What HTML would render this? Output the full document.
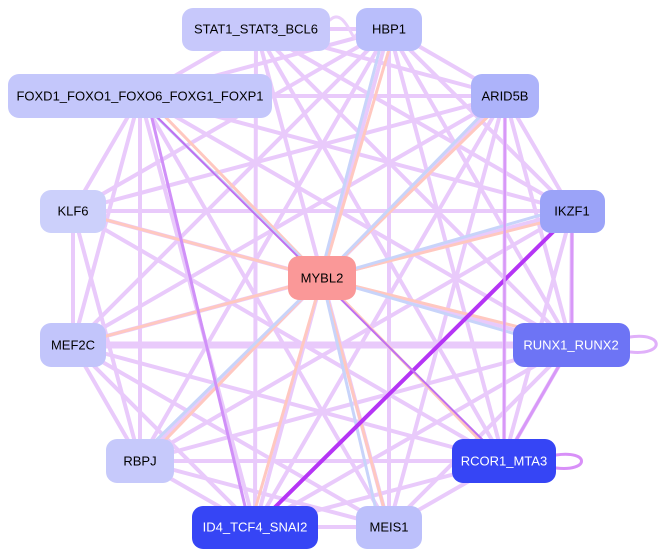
<!DOCTYPE html>
<html><head><meta charset="utf-8"><style>
html,body{margin:0;padding:0;background:#fff;width:662px;height:557px;overflow:hidden}
svg text{font-family:"Liberation Sans",Arial,sans-serif;font-size:13px;text-anchor:middle;dominant-baseline:central}
</style></head><body>
<svg width="662" height="557" viewBox="0 0 662 557">
<g stroke-linecap="round" fill="none">
<g stroke="#e9cafb" stroke-width="4">
<line x1="256" y1="29" x2="140" y2="96"/><line x1="256" y1="29" x2="389" y2="29"/><line x1="256" y1="29" x2="505" y2="96"/><line x1="256" y1="29" x2="572" y2="211"/><line x1="256" y1="29" x2="571" y2="345"/><line x1="256" y1="29" x2="504" y2="461"/><line x1="256" y1="29" x2="255" y2="527"/><line x1="256" y1="29" x2="389" y2="527"/>
<line x1="389" y1="29" x2="140" y2="96"/><line x1="389" y1="29" x2="505" y2="96"/><line x1="389" y1="29" x2="73" y2="211"/><line x1="389" y1="29" x2="73" y2="345"/><line x1="389" y1="29" x2="140" y2="461"/><line x1="389" y1="29" x2="255" y2="527"/><line x1="389" y1="29" x2="389" y2="527"/><line x1="389" y1="29" x2="504" y2="461"/><line x1="389" y1="29" x2="571" y2="345"/><line x1="389" y1="29" x2="572" y2="211"/>
<line x1="140" y1="96" x2="505" y2="96"/><line x1="140" y1="96" x2="73" y2="211"/><line x1="140" y1="96" x2="73" y2="345"/><line x1="140" y1="96" x2="140" y2="461"/><line x1="140" y1="96" x2="255" y2="527"/><line x1="140" y1="96" x2="572" y2="211"/><line x1="140" y1="96" x2="571" y2="345"/><line x1="140" y1="96" x2="389" y2="527"/>
<line x1="505" y1="96" x2="73" y2="211"/><line x1="505" y1="96" x2="73" y2="345"/><line x1="505" y1="96" x2="140" y2="461"/><line x1="505" y1="96" x2="255" y2="527"/><line x1="505" y1="96" x2="389" y2="527"/><line x1="505" y1="96" x2="504" y2="461"/><line x1="505" y1="96" x2="571" y2="345"/><line x1="505" y1="96" x2="572" y2="211"/>
<line x1="73" y1="211" x2="572" y2="211"/><line x1="73" y1="211" x2="73" y2="345"/><line x1="73" y1="211" x2="571" y2="345"/><line x1="73" y1="211" x2="140" y2="461"/><line x1="73" y1="211" x2="504" y2="461"/>
<line x1="572" y1="211" x2="73" y2="345"/><line x1="572" y1="211" x2="140" y2="461"/><line x1="572" y1="211" x2="504" y2="461"/><line x1="572" y1="211" x2="571" y2="345"/>
<line x1="73" y1="345" x2="571" y2="345" stroke-width="7"/><line x1="73" y1="345" x2="140" y2="461"/><line x1="73" y1="345" x2="504" y2="461"/><line x1="73" y1="345" x2="389" y2="527"/><line x1="73" y1="345" x2="255" y2="527"/>
<line x1="571" y1="345" x2="140" y2="461"/><line x1="571" y1="345" x2="504" y2="461"/><line x1="571" y1="345" x2="255" y2="527"/><line x1="571" y1="345" x2="389" y2="527"/>
<line x1="140" y1="461" x2="504" y2="461"/><line x1="140" y1="461" x2="255" y2="527"/><line x1="140" y1="461" x2="389" y2="527"/>
<line x1="504" y1="461" x2="255" y2="527"/><line x1="504" y1="461" x2="389" y2="527"/><line x1="255" y1="527" x2="389" y2="527"/>
</g>
<g stroke="#ffc8c0" stroke-width="3">
<line x1="322" y1="278" x2="73" y2="211"/><line x1="322" y1="278" x2="73" y2="345"/><line x1="322" y1="278" x2="395" y2="29"/><line x1="322" y1="278" x2="572" y2="215"/><line x1="322" y1="278" x2="571" y2="340"/><line x1="322" y1="278" x2="500" y2="461"/><line x1="322" y1="278" x2="250" y2="527"/><line x1="322" y1="278" x2="145" y2="461"/><line x1="322" y1="278" x2="505" y2="100"/><line x1="322" y1="278" x2="145" y2="96"/><line x1="322" y1="278" x2="389" y2="527"/>
</g>
<g stroke="#c8d4fa" stroke-width="3">
<line x1="320" y1="278" x2="385" y2="29"/><line x1="322" y1="278" x2="500" y2="96"/><line x1="322" y1="278" x2="572" y2="206"/><line x1="322" y1="278" x2="380" y2="527"/><line x1="322" y1="278" x2="135" y2="461"/><line x1="322" y1="278" x2="135" y2="96"/><line x1="322" y1="278" x2="571" y2="350"/>
</g>
<line x1="255" y1="527" x2="560" y2="225" stroke="#b535f5" stroke-width="4"/>
<line x1="150" y1="110" x2="250" y2="527" stroke="#d090f8" stroke-width="3"/>
<line x1="150" y1="110" x2="504" y2="461" stroke="#c070f0" stroke-width="2"/>
<line x1="572" y1="211" x2="572" y2="345" stroke="#d898f8" stroke-width="3"/>
<line x1="504" y1="461" x2="571" y2="345" stroke="#d898f8" stroke-width="3"/>
<line x1="504" y1="461" x2="505" y2="96" stroke="#d898f8" stroke-width="2.5"/>
<path d="M556 455 C590 450 590 472 556 468" stroke="#d890f8" stroke-width="3"/>
<path d="M630 337 C665 332 665 356 630 352" stroke="#e0b0fa" stroke-width="3"/>
<path d="M330 20 C345 5 355 50 356 35" stroke="#ebd0fb" stroke-width="3"/>
</g>
<g>
<rect x="182" y="8" width="148" height="43" rx="11" fill="#c7c8fb"/>
<rect x="356" y="8" width="66" height="43" rx="11" fill="#b9befb"/>
<rect x="8" y="74" width="264" height="44" rx="11" fill="#c4c7fb"/>
<rect x="471" y="74" width="68" height="44" rx="11" fill="#adb3fa"/>
<rect x="40" y="190" width="66" height="43" rx="11" fill="#ccd0fb"/>
<rect x="540" y="190" width="65" height="43" rx="11" fill="#9ba3f8"/>
<rect x="288" y="256" width="68" height="44" rx="11" fill="#fa9898"/>
<rect x="40" y="323" width="66" height="44" rx="11" fill="#c2c5fb"/>
<rect x="513" y="323" width="117" height="44" rx="11" fill="#6d74f5"/>
<rect x="106" y="439" width="68" height="44" rx="11" fill="#c6c9fb"/>
<rect x="452" y="439" width="104" height="44" rx="11" fill="#3645f5"/>
<rect x="192" y="506" width="126" height="43" rx="11" fill="#3645f5"/>
<rect x="356" y="506" width="66" height="43" rx="11" fill="#bcc0fb"/>
</g>
<g fill="#000">
<text x="256" y="29">STAT1_STAT3_BCL6</text>
<text x="389" y="29">HBP1</text>
<text x="140" y="96">FOXD1_FOXO1_FOXO6_FOXG1_FOXP1</text>
<text x="505" y="96">ARID5B</text>
<text x="73" y="211">KLF6</text>
<text x="572" y="211">IKZF1</text>
<text x="322" y="278">MYBL2</text>
<text x="73" y="345">MEF2C</text>
<text x="571" y="345" fill="#fff">RUNX1_RUNX2</text>
<text x="140" y="461">RBPJ</text>
<text x="504" y="461" fill="#fff">RCOR1_MTA3</text>
<text x="255" y="527" fill="#fff">ID4_TCF4_SNAI2</text>
<text x="389" y="527">MEIS1</text>
</g>
</svg>
</body></html>
